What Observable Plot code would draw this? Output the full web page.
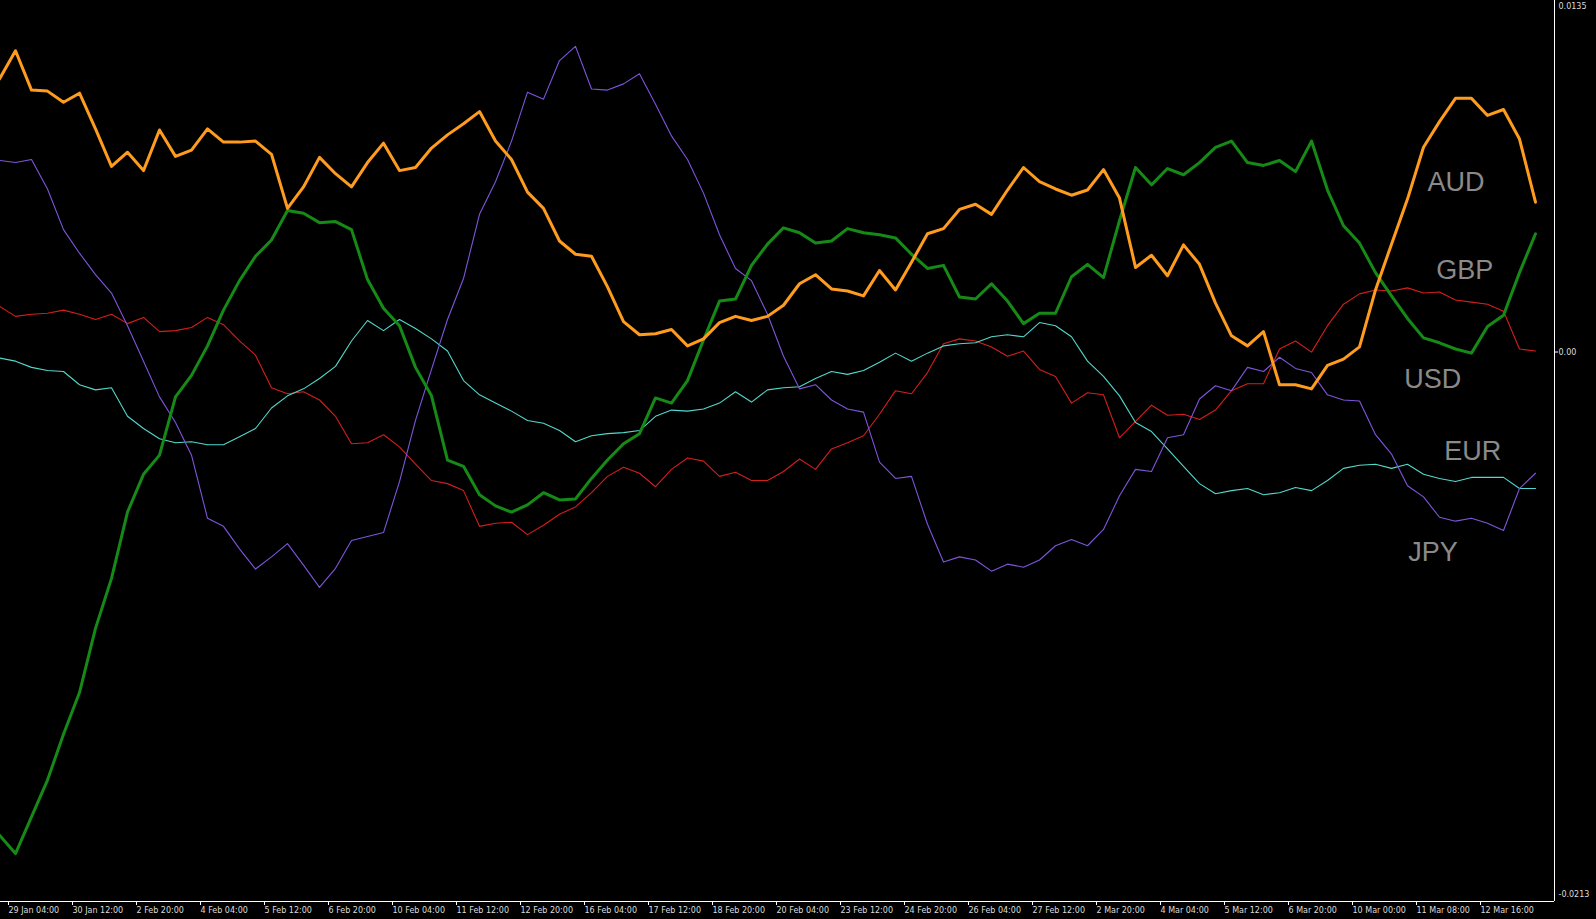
<!DOCTYPE html>
<html><head><meta charset="utf-8">
<script src="https://cdn.jsdelivr.net/npm/d3@7"></script>
<script src="https://cdn.jsdelivr.net/npm/@observablehq/plot@0.6"></script>
<style>html,body{margin:0;padding:0;background:#000;overflow:hidden}</style>
</head><body><div id="chart"></div>
<script>
// H4 bars; bar 0 = 29 Jan 04:00. Values sampled every 2 bars starting at bar -1.
const firstBar = -1, barStep = 2;
const currencies = ["USD", "EUR", "JPY", "GBP", "AUD"];

const aud = [0.01047, 0.01156, 0.01004, 0.01000, 0.00957, 0.00992, 0.00854, 0.00709, 0.00764, 0.00693,
0.00850, 0.00748, 0.00772, 0.00854, 0.00803, 0.00803, 0.00807, 0.00756, 0.00547, 0.00630,
0.00744, 0.00681, 0.00630, 0.00724, 0.00799, 0.00693, 0.00705, 0.00780, 0.00831, 0.00874,
0.00921, 0.00807, 0.00736, 0.00610, 0.00547, 0.00421, 0.00370, 0.00362, 0.00244, 0.00110,
0.00059, 0.00063, 0.00079, 0.00016, 0.00043, 0.00106, 0.00130, 0.00114, 0.00130, 0.00173,
0.00256, 0.00291, 0.00236, 0.00228, 0.00209, 0.00307, 0.00232, 0.00339, 0.00449, 0.00469,
0.00543, 0.00563, 0.00524, 0.00618, 0.00705, 0.00650, 0.00622, 0.00598, 0.00618, 0.00697,
0.00587, 0.00319, 0.00366, 0.00287, 0.00406, 0.00331, 0.00181, 0.00055, 0.00016, 0.00071,
-0.00134, -0.00134, -0.00150, -0.00059, -0.00035, 0.00012, 0.00232, 0.00409, 0.00583, 0.00783,
0.00882, 0.00972, 0.00972, 0.00906, 0.00929, 0.00815, 0.00571];

const gbp = [-0.01874, -0.01945, -0.01803, -0.01661, -0.01484, -0.01323, -0.01075, -0.00882, -0.00626, -0.00480,
-0.00406, -0.00181, -0.00098, 0.00016, 0.00154, 0.00268, 0.00362, 0.00425, 0.00539, 0.00528,
0.00492, 0.00496, 0.00465, 0.00272, 0.00161, 0.00094, -0.00067, -0.00177, -0.00425, -0.00449,
-0.00559, -0.00602, -0.00626, -0.00598, -0.00551, -0.00579, -0.00575, -0.00496, -0.00425, -0.00362,
-0.00323, -0.00185, -0.00205, -0.00118, 0.00039, 0.00189, 0.00197, 0.00327, 0.00409, 0.00472,
0.00453, 0.00413, 0.00421, 0.00469, 0.00453, 0.00445, 0.00433, 0.00370, 0.00315, 0.00327,
0.00205, 0.00197, 0.00256, 0.00189, 0.00102, 0.00142, 0.00142, 0.00283, 0.00331, 0.00280,
0.00500, 0.00705, 0.00638, 0.00701, 0.00677, 0.00724, 0.00783, 0.00807, 0.00724, 0.00713,
0.00732, 0.00689, 0.00807, 0.00618, 0.00480, 0.00413, 0.00299, 0.00209, 0.00122, 0.00047,
0.00028, 0.00004, -0.00012, 0.00091, 0.00134, 0.00299, 0.00449];

const usd = [0.00169, 0.00130, 0.00138, 0.00142, 0.00154, 0.00138, 0.00118, 0.00138, 0.00102, 0.00126,
0.00071, 0.00075, 0.00087, 0.00126, 0.00098, 0.00035, -0.00020, -0.00146, -0.00169, -0.00161,
-0.00193, -0.00256, -0.00362, -0.00358, -0.00327, -0.00374, -0.00441, -0.00504, -0.00516, -0.00543,
-0.00681, -0.00669, -0.00665, -0.00713, -0.00677, -0.00634, -0.00606, -0.00551, -0.00488, -0.00453,
-0.00476, -0.00528, -0.00461, -0.00417, -0.00429, -0.00488, -0.00472, -0.00504, -0.00504, -0.00469,
-0.00421, -0.00461, -0.00382, -0.00358, -0.00331, -0.00248, -0.00157, -0.00169, -0.00087, 0.00024,
0.00043, 0.00035, 0.00012, -0.00024, -0.00004, -0.00075, -0.00102, -0.00205, -0.00165, -0.00173,
-0.00339, -0.00276, -0.00213, -0.00252, -0.00248, -0.00268, -0.00232, -0.00157, -0.00130, -0.00130,
0.00004, 0.00035, -0.00008, 0.00094, 0.00177, 0.00217, 0.00232, 0.00228, 0.00240, 0.00220,
0.00224, 0.00193, 0.00185, 0.00177, 0.00150, 0.00004, -0.00004];

const eur = [-0.00031, -0.00043, -0.00067, -0.00079, -0.00083, -0.00134, -0.00154, -0.00146, -0.00256, -0.00303,
-0.00343, -0.00358, -0.00354, -0.00366, -0.00366, -0.00335, -0.00303, -0.00224, -0.00177, -0.00150,
-0.00110, -0.00063, 0.00035, 0.00114, 0.00075, 0.00118, 0.00083, 0.00043, -0.00004, -0.00118,
-0.00173, -0.00205, -0.00236, -0.00272, -0.00283, -0.00311, -0.00354, -0.00331, -0.00323, -0.00319,
-0.00311, -0.00256, -0.00232, -0.00236, -0.00228, -0.00205, -0.00161, -0.00201, -0.00154, -0.00146,
-0.00142, -0.00110, -0.00083, -0.00094, -0.00079, -0.00047, -0.00012, -0.00043, -0.00012, 0.00016,
0.00024, 0.00028, 0.00051, 0.00059, 0.00051, 0.00106, 0.00094, 0.00051, -0.00043, -0.00102,
-0.00177, -0.00280, -0.00315, -0.00382, -0.00449, -0.00516, -0.00555, -0.00543, -0.00535, -0.00559,
-0.00551, -0.00531, -0.00543, -0.00504, -0.00457, -0.00445, -0.00441, -0.00457, -0.00441, -0.00480,
-0.00496, -0.00508, -0.00492, -0.00492, -0.00492, -0.00535, -0.00535];

const jpy = [0.00732, 0.00724, 0.00736, 0.00622, 0.00465, 0.00374, 0.00291, 0.00220, 0.00094, -0.00043,
-0.00181, -0.00280, -0.00406, -0.00650, -0.00681, -0.00768, -0.00846, -0.00799, -0.00748, -0.00831,
-0.00917, -0.00843, -0.00736, -0.00720, -0.00705, -0.00508, -0.00272, -0.00075, 0.00118, 0.00276,
0.00524, 0.00650, 0.00807, 0.00996, 0.00969, 0.01118, 0.01173, 0.01008, 0.01004, 0.01028,
0.01067, 0.00949, 0.00827, 0.00736, 0.00606, 0.00445, 0.00315, 0.00268, 0.00138, -0.00024,
-0.00150, -0.00134, -0.00193, -0.00228, -0.00240, -0.00433, -0.00496, -0.00488, -0.00673, -0.00819,
-0.00799, -0.00811, -0.00854, -0.00827, -0.00839, -0.00811, -0.00756, -0.00732, -0.00756, -0.00693,
-0.00563, -0.00461, -0.00469, -0.00339, -0.00327, -0.00189, -0.00138, -0.00157, -0.00067, -0.00083,
-0.00028, -0.00071, -0.00087, -0.00173, -0.00193, -0.00197, -0.00327, -0.00402, -0.00524, -0.00567,
-0.00646, -0.00661, -0.00650, -0.00669, -0.00697, -0.00535, -0.00476];

const tickBars = [0, 8, 16, 24, 32, 40, 48, 56, 64, 72, 80, 88, 96, 104, 112, 120, 128, 136, 144, 152, 160, 168, 176, 184];
const tickLabels = ["29 Jan 04:00", "30 Jan 12:00", "2 Feb 20:00", "4 Feb 04:00", "5 Feb 12:00", "6 Feb 20:00",
  "10 Feb 04:00", "11 Feb 12:00", "12 Feb 20:00", "16 Feb 04:00", "17 Feb 12:00", "18 Feb 20:00",
  "20 Feb 04:00", "23 Feb 12:00", "24 Feb 20:00", "26 Feb 04:00", "27 Feb 12:00", "2 Mar 20:00",
  "4 Mar 04:00", "5 Mar 12:00", "6 Mar 20:00", "10 Mar 00:00", "11 Mar 08:00", "12 Mar 16:00"];

const yMax = 0.0135, yMin = -0.0213;
const yTickLabels = ["0.0135", "0.00", "-0.0213"];

const labelNames = ["AUD", "GBP", "USD", "EUR", "JPY"];
const labelBars = [177.5, 178.6, 174.6, 179.6, 175.1];
const labelValues = [0.00647, 0.00307, -0.00112, -0.0039, -0.00781];

// ---- build table
const seriesMap = {AUD: aud, GBP: gbp, USD: usd, EUR: eur, JPY: jpy};
const rows = [];
for (const c of currencies) seriesMap[c].forEach((v, i) => rows.push({currency: c, bar: firstBar + i * barStep, value: v}));

const colors = {AUD: "#ff9c1e", GBP: "#168a16", USD: "#d41e1e", EUR: "#52d8cc", JPY: "#7e55dc"};
const widths = {AUD: 3, GBP: 3, USD: 1.1, EUR: 1.1, JPY: 1.1};
const xDomain = [-0.875, 193.375];

const chart = Plot.plot({
  width: 1596, height: 919,
  marginLeft: 0, marginRight: 42, marginTop: 0, marginBottom: 18,
  style: {background: "#000", color: "#dcdcdc", fontFamily: "DejaVu Sans", fontSize: "8px"},
  x: {domain: xDomain, axis: null},
  y: {domain: [yMin, yMax], axis: null},
  marks: [
    ...currencies.map(c => Plot.line(rows.filter(r => r.currency === c), {
      x: "bar", y: "value", stroke: colors[c], strokeWidth: widths[c], clip: true,
      strokeLinejoin: "round", strokeLinecap: "round"
    })),
    Plot.ruleX([xDomain[1]], {stroke: "#fff", strokeWidth: 1}),
    Plot.ruleY([yMin], {stroke: "#fff", strokeWidth: 1}),
    Plot.axisX({anchor: "bottom", label: null, ticks: tickBars, tickFormat: d => tickLabels[tickBars.indexOf(d)],
      textAnchor: "start", tickSize: 4, tickPadding: 2, dx: 1, stroke: "#fff", fill: "#dcdcdc"}),
    Plot.axisY({anchor: "right", label: null, ticks: [yMax], tickFormat: () => yTickLabels[0], tickSize: 0, tickPadding: 4, dy: 6, fill: "#dcdcdc"}),
    Plot.axisY({anchor: "right", label: null, ticks: [0], tickFormat: () => yTickLabels[1], tickSize: 3, tickPadding: 1, dy: 2, stroke: "#fff", fill: "#dcdcdc"}),
    Plot.axisY({anchor: "right", label: null, ticks: [yMin], tickFormat: () => yTickLabels[2], tickSize: 0, tickPadding: 4, dy: -7, fill: "#dcdcdc"}),
    Plot.text(labelNames, {
      x: (d, i) => labelBars[i], y: (d, i) => labelValues[i], text: d => d,
      textAnchor: "start", lineAnchor: "middle", fill: "#8a8a8a",
      fontSize: 27, fontFamily: "Liberation Sans, Arial, sans-serif"
    })
  ]
});
document.getElementById("chart").appendChild(chart);
</script>
</body></html>
